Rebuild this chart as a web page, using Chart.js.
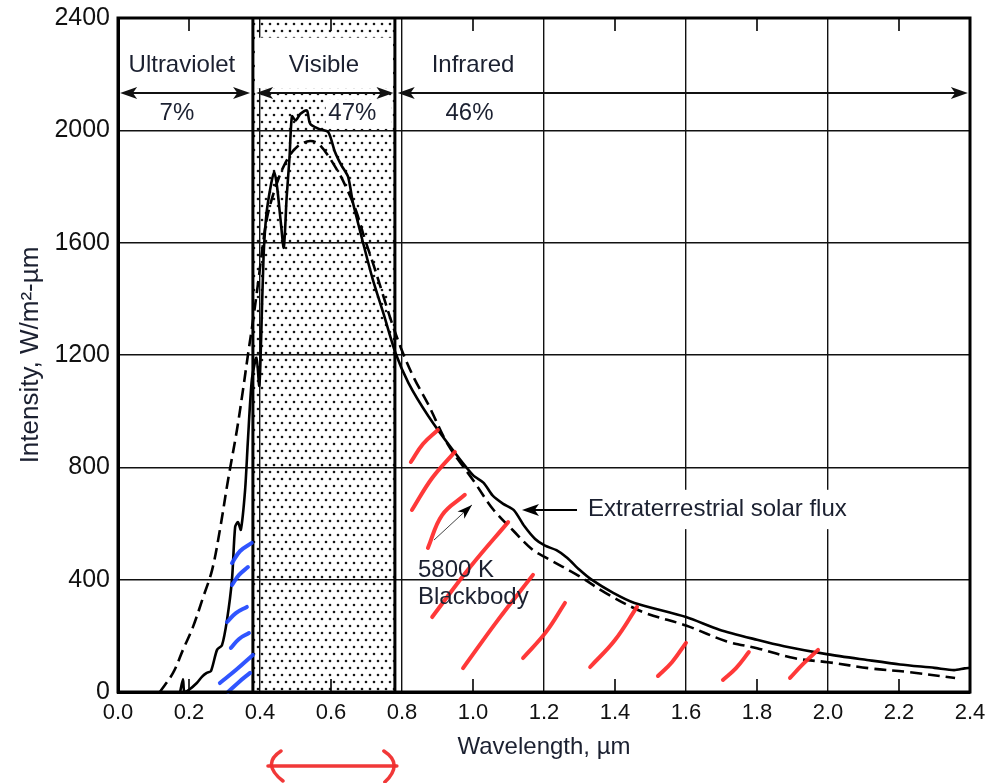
<!DOCTYPE html>
<html><head><meta charset="utf-8"><title>Solar spectrum</title>
<script src="https://cdn.jsdelivr.net/npm/chart.js@4.4.1/dist/chart.umd.min.js"></script>
<style>html,body{margin:0;padding:0;background:#fff;overflow:hidden}canvas{display:block}</style>
</head><body>
<canvas id="chart" width="998" height="783"></canvas>
<script>
// ---- tick labels ----
const xTickLabels = ['0.0','0.2','0.4','0.6','0.8','1.0','1.2','1.4','1.6','1.8','2.0','2.2','2.4'];
const yTickLabels = ['0','400','800','1200','1600','2000','2400'];

// ---- extraterrestrial solar flux (solid) ----
const solarWl = [0.175,0.183,0.187,0.200,0.222,0.237,0.250,0.262,0.279,0.293,0.307,0.321,0.330,0.338,0.346,0.358,0.366,0.377,0.390,0.398,0.403,0.410,0.418,0.430,0.440,0.448,0.458,0.467,0.475,0.483,0.490,0.500,0.514,0.532,0.541,0.564,0.592,0.611,0.629,0.648,0.661,0.675,0.689,0.717,0.749,0.782,0.818,0.874,0.940,1.000,1.030,1.055,1.085,1.115,1.145,1.175,1.203,1.235,1.265,1.300,1.334,1.395,1.455,1.600,1.694,1.800,1.876,2.000,2.110,2.203,2.300,2.355,2.385,2.400];
const solarFlux = [0,45,0,8,32,55,68,75,150,167,256,399,588,605,578,719,897,1111,1190,1090,1250,1550,1700,1800,1852,1800,1680,1582,1760,1900,2050,2035,2059,2071,2024,2006,1994,1924,1876,1835,1747,1676,1606,1472,1343,1206,1101,983,867,772,745,700,670,648,590,545,521,505,478,435,400,353,317,267,222,186,163,134,114,98,86,78,84,86];

// ---- 5800 K blackbody (dashed) ----
const bbWl = [0.118,0.155,0.183,0.211,0.240,0.265,0.287,0.310,0.335,0.352,0.366,0.380,0.394,0.406,0.420,0.448,0.476,0.504,0.541,0.569,0.620,0.648,0.671,0.694,0.720,0.745,0.770,0.800,0.835,0.874,0.929,1.000,1.057,1.113,1.168,1.203,1.299,1.373,1.480,1.600,1.715,1.800,1.907,2.000,2.120,2.227,2.358];
const bbFlux = [0,68,150,231,338,434,577,755,933,1075,1200,1320,1450,1570,1690,1813,1895,1941,1962,1947,1853,1782,1712,1618,1520,1420,1320,1215,1115,1024,882,755,650,575,506,480,413,353,284,237,180,156,120,106,84,71,50];

// ---- spectral bands ----
const bandNames = ['Ultraviolet','Visible','Infrared'];
const bandShares = ['7%','47%','46%'];
const bandEdges = [0, 0.38, 0.78, 2.4];

// ---- hand-drawn hatch strokes (wavelength, intensity) ----
const redStrokeWl = [[0.825,0.859,0.901],[0.828,0.885,0.949],[0.873,0.913,0.977],[0.885,0.992,1.099],[0.972,1.070,1.169],[1.141,1.206,1.259],[1.330,1.400,1.462],[1.521,1.561,1.600],[1.704,1.741,1.777],[1.893,1.930,1.972]];
const redStrokeI  = [[819,883,933],[648,762,855],[513,630,702],[267,445,605],[85,256,417],[121,214,317],[89,185,303],[57,107,175],[43,85,142],[50,100,150]];
const blueStrokeWl = [[0.321,0.344,0.377],[0.321,0.341,0.366],[0.307,0.332,0.363],[0.318,0.341,0.369],[0.287,0.332,0.380],[0.310,0.341,0.372]];
const blueStrokeI  = [[459,502,531],[381,417,445],[249,281,303],[157,189,210],[32,78,132],[0,36,68]];

const FONT = '"Liberation Sans", Arial, Helvetica, sans-serif';
const TXT = '#1b2030';

function pts(xs, ys){ return xs.map((x,i)=>({x:x, y:ys[i]})); }

const datasets = [];
redStrokeWl.forEach((w,i)=>datasets.push({data:pts(w, redStrokeI[i]), borderColor:'rgba(255,40,40,0.92)', borderWidth:4, pointRadius:0, tension:0.4, borderCapStyle:'round', clip:false, order:0}));
blueStrokeWl.forEach((w,i)=>datasets.push({data:pts(w, blueStrokeI[i]), borderColor:'rgba(30,70,255,0.92)', borderWidth:4, pointRadius:0, tension:0.4, borderCapStyle:'round', clip:false, order:0}));
datasets.push({label:'Extraterrestrial solar flux', data:pts(solarWl, solarFlux), borderColor:'#000', borderWidth:2.6, pointRadius:0, tension:0.25, order:1});
datasets.push({label:'5800 K Blackbody', data:pts(bbWl, bbFlux), borderColor:'#000', borderWidth:2.6, borderDash:[12,6], pointRadius:0, tension:0.35, order:2});

function dotPattern(ctx){
  const c = document.createElement('canvas'); c.width = 8; c.height = 14;
  const g = c.getContext('2d'); g.fillStyle = '#161616';
  g.beginPath(); g.arc(2,3,1.3,0,Math.PI*2); g.fill();
  g.beginPath(); g.arc(6,10,1.3,0,Math.PI*2); g.fill();
  return ctx.createPattern(c,'repeat');
}
function arrowHead(ctx, x, y, dir, len, half){
  ctx.beginPath(); ctx.moveTo(x,y); ctx.lineTo(x - dir*len, y - half); ctx.lineTo(x - dir*len*0.75, y); ctx.lineTo(x - dir*len, y + half); ctx.closePath(); ctx.fill();
}
function dblArrow(ctx, x1, x2, y){
  ctx.beginPath(); ctx.moveTo(x1+4,y); ctx.lineTo(x2-4,y); ctx.stroke();
  arrowHead(ctx, x1, y, -1, 17, 6);
  arrowHead(ctx, x2, y, 1, 17, 6);
}

const deco = {
  id:'deco',
  beforeDatasetsDraw(chart){
    const {ctx, chartArea:a, scales:{x, y}} = chart;
    const l = x.getPixelForValue(bandEdges[1]), r = x.getPixelForValue(bandEdges[2]);
    ctx.save();
    ctx.fillStyle = dotPattern(ctx);
    ctx.fillRect(l, a.top, r-l, a.bottom-a.top);
    // white area behind "Visible" and "47%"
    ctx.fillStyle = '#fff';
    ctx.fillRect(l+2, y.getPixelForValue(2330), r-l-4, y.getPixelForValue(2150)-y.getPixelForValue(2330));
    ctx.fillRect(x.getPixelForValue(0.585), y.getPixelForValue(2110), x.getPixelForValue(0.77)-x.getPixelForValue(0.585), y.getPixelForValue(2005)-y.getPixelForValue(2110));
    ctx.strokeStyle = '#000'; ctx.lineWidth = 3;
    [l, r].forEach(px=>{ ctx.beginPath(); ctx.moveTo(px, a.top); ctx.lineTo(px, a.bottom); ctx.stroke(); });
    // white behind label text
    ctx.fillStyle = '#fff';
    ctx.fillRect(x.getPixelForValue(1.31), y.getPixelForValue(720), x.getPixelForValue(2.1)-x.getPixelForValue(1.31), y.getPixelForValue(580)-y.getPixelForValue(720));
    ctx.restore();
  },
  afterDatasetsDraw(chart){
    const {ctx, chartArea:a, scales:{x, y}} = chart;
    const X = v=>x.getPixelForValue(v), Y = v=>y.getPixelForValue(v);
    ctx.save();
    // frame
    ctx.strokeStyle = '#000'; ctx.lineWidth = 3;
    ctx.strokeRect(a.left, a.top, a.right-a.left, a.bottom-a.top);
    // inward minor ticks
    ctx.lineWidth = 1.6;
    [0.2,0.6,1.0,1.4,1.8,2.2].forEach(v=>{
      ctx.beginPath(); ctx.moveTo(X(v), a.bottom); ctx.lineTo(X(v), a.bottom-13); ctx.stroke();
      ctx.beginPath(); ctx.moveTo(X(v), a.top); ctx.lineTo(X(v), a.top+13); ctx.stroke();
    });
    // band labels
    ctx.fillStyle = TXT; ctx.font = '24px ' + FONT; ctx.textAlign = 'center'; ctx.textBaseline = 'middle';
    const labelWl = [0.18, 0.58, 1.0];
    bandNames.forEach((n,i)=>ctx.fillText(n, X(labelWl[i]), Y(2233)));
    const shareWl = [0.166, 0.66, 0.99];
    bandShares.forEach((n,i)=>ctx.fillText(n, X(shareWl[i]), Y(2062)));
    // band arrows
    ctx.strokeStyle = '#111'; ctx.fillStyle = '#111'; ctx.lineWidth = 1.8;
    dblArrow(ctx, X(0.006), X(0.372), Y(2133));
    dblArrow(ctx, X(0.389), X(0.776), Y(2133));
    dblArrow(ctx, X(0.788), X(2.394), Y(2133));
    // curve labels
    ctx.fillStyle = TXT; ctx.textAlign = 'left';
    ctx.fillText('Extraterrestrial solar flux', X(1.324), Y(652));
    ctx.fillText('5800 K', X(0.845), Y(434));
    ctx.fillText('Blackbody', X(0.845), Y(337));
    ctx.strokeStyle = '#000'; ctx.fillStyle = '#000'; ctx.lineWidth = 1.8;
    ctx.beginPath(); ctx.moveTo(X(1.293), Y(648)); ctx.lineTo(X(1.15), Y(648)); ctx.stroke();
    arrowHead(ctx, X(1.138), Y(648), -1, 17, 6);
    // thin arrow to blackbody
    const x0 = X(0.890), y0 = Y(541), x1 = X(0.997), y1 = Y(666);
    ctx.lineWidth = 1; ctx.strokeStyle = '#444';
    ctx.beginPath(); ctx.moveTo(x0,y0); ctx.lineTo(x1,y1); ctx.stroke();
    const ang = Math.atan2(y1-y0, x1-x0);
    ctx.save(); ctx.translate(x1,y1); ctx.rotate(ang);
    ctx.beginPath(); ctx.moveTo(0,0); ctx.lineTo(-15,-5); ctx.lineTo(-11,0); ctx.lineTo(-15,5); ctx.closePath(); ctx.fill();
    ctx.restore();
    // red double arrow under the axis (visible range)
    const ry = a.bottom + 74, rl = X(0.414), rr = X(0.794);
    ctx.strokeStyle = 'rgba(240,45,45,0.95)'; ctx.lineWidth = 3.5; ctx.lineCap = 'round';
    ctx.beginPath(); ctx.moveTo(rl+3, ry); ctx.lineTo(rr-3, ry); ctx.stroke();
    ctx.beginPath(); ctx.moveTo(rl+16, ry-15); ctx.quadraticCurveTo(rl-4, ry-2, rl+18, ry+15); ctx.stroke();
    ctx.beginPath(); ctx.moveTo(rr-16, ry-15); ctx.quadraticCurveTo(rr+4, ry-2, rr-15, ry+16); ctx.stroke();
    ctx.restore();
  }
};

new Chart(document.getElementById('chart'), {
  type:'line',
  data:{datasets},
  plugins:[deco],
  options:{
    responsive:false, animation:false, devicePixelRatio:1,
    layout:{padding:{top:18, right:28, left:0, bottom:0}},
    plugins:{legend:{display:false}, tooltip:{enabled:false}},
    scales:{
      x:{type:'linear', min:0, max:2.4,
        ticks:{stepSize:0.2, autoSkip:false, maxRotation:0, color:'#111', padding:8, font:{family:FONT, size:22},
          callback:(v,i)=>xTickLabels[i]},
        grid:{drawTicks:false, lineWidth:1.4, color:c=>{const q=c.tick.value/0.4; return Math.abs(q-Math.round(q))<1e-6?'#111':'rgba(0,0,0,0)';}},
        border:{display:true, color:'#000', width:3},
        title:{display:true, text:'Wavelength, µm', color:TXT, font:{family:FONT, size:24}, padding:{top:0, bottom:21}},
        afterFit:s=>{s.height = 91; s.paddingLeft = 0; s.paddingRight = 0;}
      },
      y:{min:0, max:2400,
        ticks:{stepSize:400, color:'#111', padding:8, font:{family:FONT, size:25}, callback:(v,i)=>yTickLabels[i]},
        grid:{drawTicks:false, lineWidth:1.4, color:'#111'},
        border:{display:true, color:'#000', width:3},
        title:{display:true, text:'Intensity, W/m²-µm', color:TXT, font:{family:FONT, size:26}, padding:{top:15, bottom:0}},
        afterFit:s=>{s.width = 118; s.paddingTop = 0; s.paddingBottom = 0;}
      }
    }
  }
});
</script>
</body></html>
